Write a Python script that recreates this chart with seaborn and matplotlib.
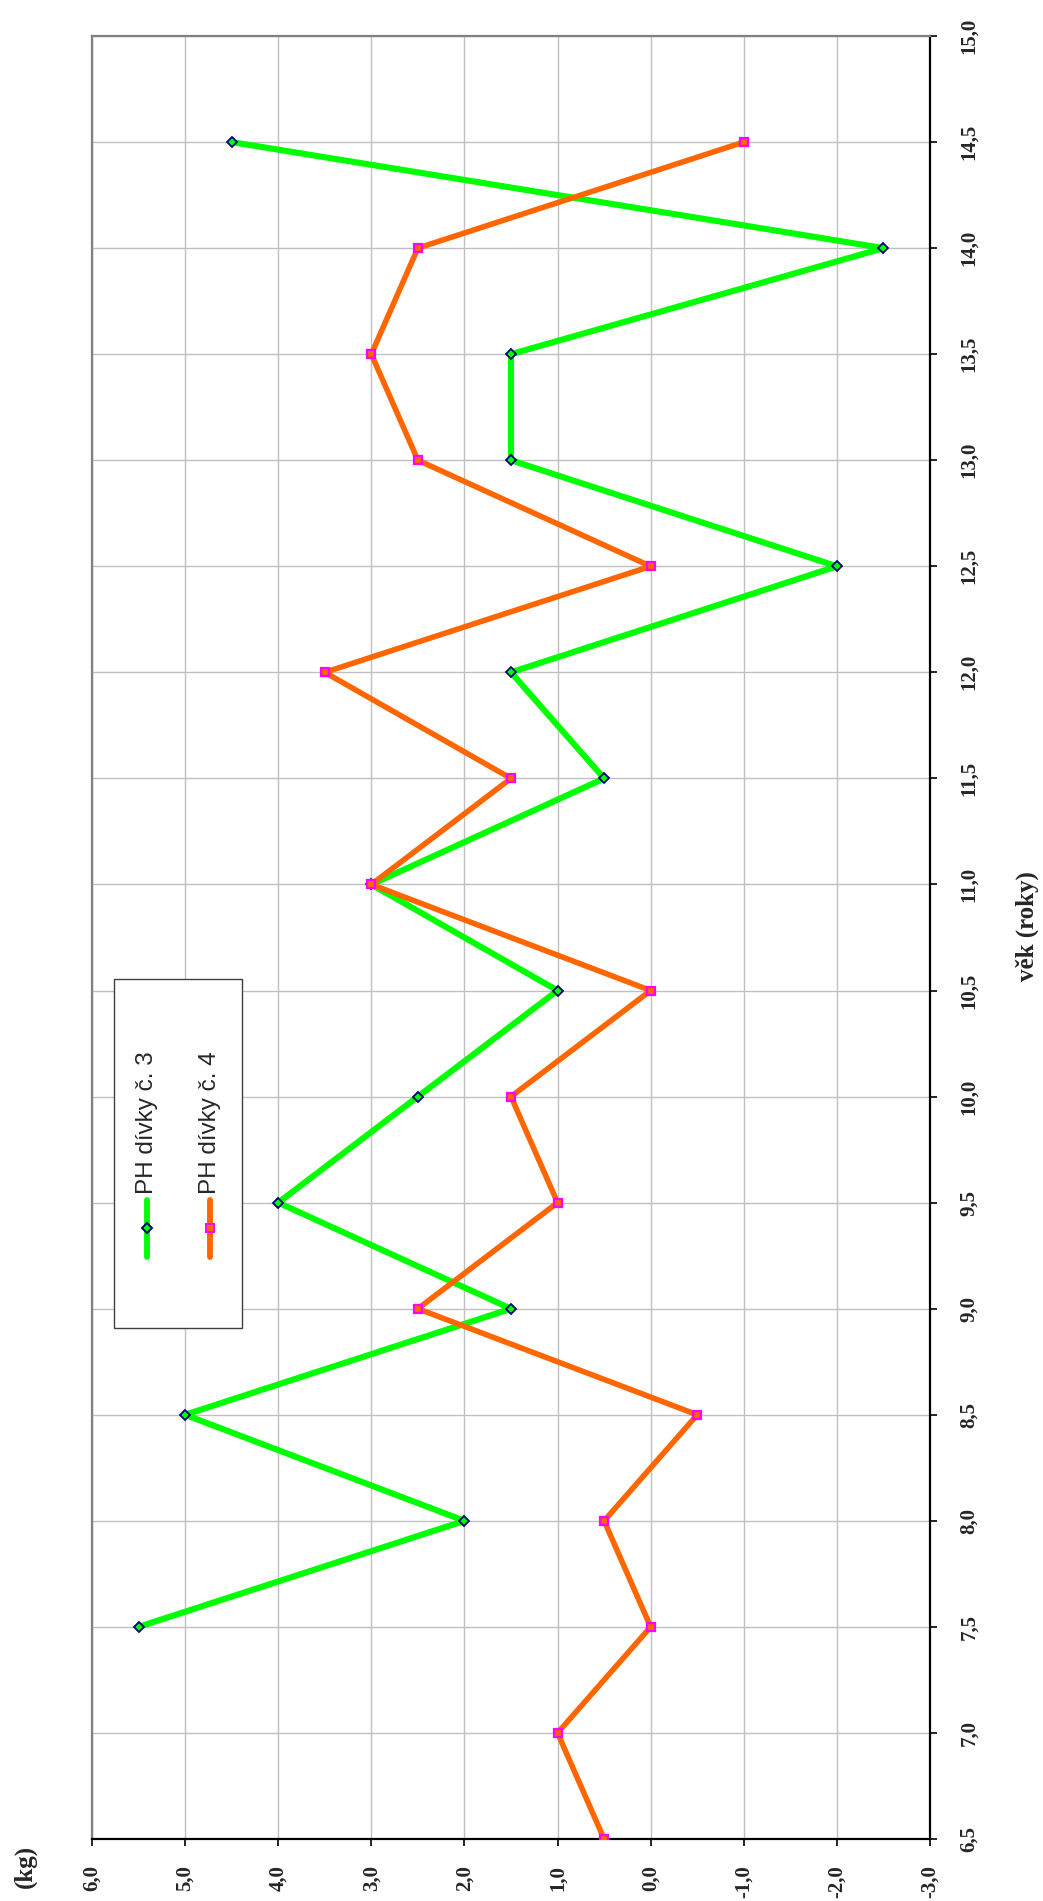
import numpy as np
import pandas as pd
import matplotlib
matplotlib.use("Agg")
import matplotlib.pyplot as plt
from matplotlib.lines import Line2D
from matplotlib.patches import Rectangle
import seaborn as sns

# Age (years) and weight gain (kg) for the two girls
age_g3 = [7.5, 8.0, 8.5, 9.0, 9.5, 10.0, 10.5, 11.0, 11.5, 12.0, 12.5, 13.0, 13.5, 14.0, 14.5]
gain_g3 = [5.5, 2.0, 5.0, 1.5, 4.0, 2.5, 1.0, 3.0, 0.5, 1.5, -2.0, 1.5, 1.5, -2.5, 4.5]

age_g4 = [6.5, 7.0, 7.5, 8.0, 8.5, 9.0, 9.5, 10.0, 10.5, 11.0, 11.5, 12.0, 12.5, 13.0, 13.5, 14.0, 14.5]
gain_g4 = [0.5, 1.0, 0.0, 0.5, -0.5, 2.5, 1.0, 1.5, 0.0, 3.0, 1.5, 3.5, 0.0, 2.5, 3.0, 2.5, -1.0]

series_names = ["PH dívky č. 3", "PH dívky č. 4"]
age_ticks = [6.5, 7.0, 7.5, 8.0, 8.5, 9.0, 9.5, 10.0, 10.5, 11.0, 11.5, 12.0, 12.5, 13.0, 13.5, 14.0, 14.5, 15.0]
kg_ticks = [6.0, 5.0, 4.0, 3.0, 2.0, 1.0, 0.0, -1.0, -2.0, -3.0]
age_title = "věk (roky)"
kg_title = "(kg)"

sns.set_style("ticks")
plt.rcParams["font.family"] = ["Liberation Serif", "DejaVu Serif"]

W, H = 1043, 1901
fig = plt.figure(figsize=(W / 100, H / 100), dpi=100)

def fx(px):
    return px / W

def fy(py):
    return 1 - py / H

left, right, top, bottom = 92, 930, 36, 1839
ax = fig.add_axes([fx(left), fy(bottom), fx(right) - fx(left), fy(top) - fy(bottom)])

df3 = pd.DataFrame({"kg": gain_g3, "age": age_g3})
df4 = pd.DataFrame({"kg": gain_g4, "age": age_g4})

sns.lineplot(data=df3, x="kg", y="age", sort=False, orient="y", estimator=None,
             color="#00FF00", linewidth=4.4, marker="D", markersize=5.5,
             markerfacecolor="#00FF00", markeredgecolor="#000080", markeredgewidth=1.3,
             ax=ax, zorder=3)
sns.lineplot(data=df4, x="kg", y="age", sort=False, orient="y", estimator=None,
             color="#FF6600", linewidth=4.0, marker="s", markersize=6,
             markerfacecolor="#FF6600", markeredgecolor="#FF00FF", markeredgewidth=1.6,
             ax=ax, zorder=4)

ax.set_xlim(6.0, -3.0)
ax.set_ylim(6.5, 15.0)

ax.set_xticks(kg_ticks)
ax.set_xticklabels([f"{v:.1f}".replace(".", ",") for v in kg_ticks])
ax.yaxis.tick_right()
ax.set_yticks(age_ticks)
ax.set_yticklabels([f"{v:.1f}".replace(".", ",") for v in age_ticks])
ax.set_xlabel("")
ax.set_ylabel("")

for lab in ax.get_xticklabels() + ax.get_yticklabels():
    lab.set_fontweight("bold")
    lab.set_fontsize(15)
    lab.set_rotation(90)

ax.tick_params(axis="x", direction="out", length=5, width=1.2, pad=14, color="black")
ax.tick_params(axis="y", direction="out", length=5, width=1.2, pad=16, color="black")
for lab in ax.get_yticklabels():
    lab.set_verticalalignment("center")

ax.grid(True, color="#C0C0C0", linewidth=1.0, zorder=0)
ax.set_axisbelow(True)

for side in ("left", "top"):
    ax.spines[side].set_color("#808080")
    ax.spines[side].set_linewidth(1.6)
for side in ("right", "bottom"):
    ax.spines[side].set_color("black")
    ax.spines[side].set_linewidth(1.6)

# Axis titles
fig.text(fx(1027), fy(926), age_title, rotation=90, fontsize=18, fontweight="bold",
         ha="center", va="center")
fig.text(fx(25), fy(1866), kg_title, rotation=90, fontsize=18, fontweight="bold",
         ha="center", va="center")

# Legend box with vertical entries
fig.patches.append(Rectangle((fx(114), fy(1328)), fx(242) - fx(114), fy(979) - fy(1328),
                             transform=fig.transFigure, facecolor="white",
                             edgecolor="#404040", linewidth=1.0, zorder=5))
entries = [
    (147, "#00FF00", "D", "#000080", 5.5, series_names[0]),
    (210, "#FF6600", "s", "#FF00FF", 6, series_names[1]),
]
for xpx, col, mk, mec, ms, name in entries:
    fig.lines.append(Line2D([fx(xpx), fx(xpx)], [fy(1257), fy(1200)], transform=fig.transFigure,
                            color=col, linewidth=4.2, solid_capstyle="round", zorder=6))
    fig.lines.append(Line2D([fx(xpx)], [fy(1228)], transform=fig.transFigure, color=col,
                            marker=mk, markersize=ms, markerfacecolor=col,
                            markeredgecolor=mec, markeredgewidth=1.4, linestyle="none", zorder=7))
    fig.text(fx(xpx), fy(1194), name, rotation=90, rotation_mode="anchor",
             ha="left", va="center", fontsize=17.5,
             family=["Liberation Sans", "DejaVu Sans"], zorder=7)

fig.savefig("out.png", dpi=100, facecolor="white")
